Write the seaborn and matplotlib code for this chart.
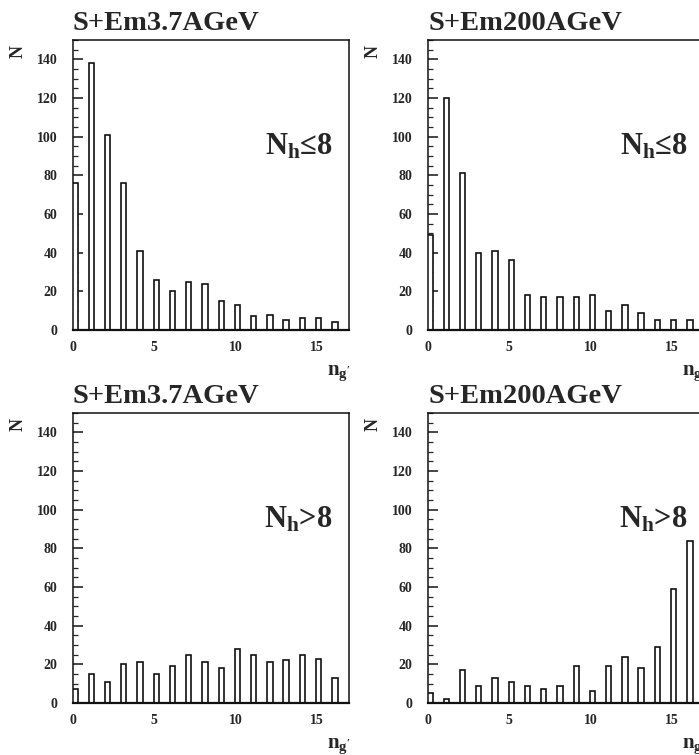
import numpy as np
import pandas as pd
import matplotlib
matplotlib.use("Agg")
import matplotlib.pyplot as plt
from matplotlib.ticker import MultipleLocator
import seaborn as sns

# n_g' bins and counts
ng = list(range(17))
low_37 = [76, 138, 101, 76, 41, 26, 20, 25, 24, 15, 13, 7, 8, 5, 6, 6, 4]
low_200 = [49, 120, 81, 40, 41, 36, 18, 17, 17, 17, 18, 10, 13, 9, 5, 5, 5]
high_37 = [7, 15, 11, 20, 21, 15, 19, 25, 21, 18, 28, 25, 21, 22, 25, 23, 13]
high_200 = [5, 2, 17, 9, 13, 11, 9, 7, 9, 19, 6, 19, 24, 18, 29, 59, 84]

titles = ["S+Em3.7AGeV", "S+Em200AGeV", "S+Em3.7AGeV", "S+Em200AGeV"]
cuts = [r"N$_\mathbf{h}$≤8", r"N$_\mathbf{h}$≤8", r"N$_\mathbf{h}$>8", r"N$_\mathbf{h}$>8"]
yticks = [0, 20, 40, 60, 80, 100, 120, 140]
xticks = [0, 5, 10, 15]

sns.set_style("ticks")
plt.rcParams["font.family"] = ["Liberation Serif", "DejaVu Serif"]
plt.rcParams["font.weight"] = "bold"
plt.rcParams["mathtext.fontset"] = "custom"
plt.rcParams["mathtext.rm"] = "Liberation Serif:bold"
plt.rcParams["mathtext.bf"] = "Liberation Serif:bold"
plt.rcParams["mathtext.it"] = "Liberation Serif:bold"

fig = plt.figure(figsize=(6.99, 7.55), dpi=100)
W, H = 699.0, 755.0
# axes boxes in pixels: left, top, width, height
boxes = [(73, 40, 276, 290), (428, 40, 276, 290),
         (73, 413, 276, 290), (428, 413, 276, 290)]
series = [low_37, low_200, high_37, high_200]

for box, counts, title, cut in zip(boxes, series, titles, cuts):
    l, t, w, h = box
    ax = fig.add_axes([l / W, 1 - (t + h) / H, w / W, h / H])
    df = pd.DataFrame({"ng": ng, "N": counts})
    df["pos"] = df["ng"] + 0.13
    sns.barplot(data=df, x="pos", y="N", native_scale=True, width=0.33,
                color="white", edgecolor="#111111", linewidth=1.2,
                saturation=1, errorbar=None, ax=ax)
    ax.set_xlim(0, 17)
    ax.set_ylim(0, 150)
    ax.set_xticks(xticks)
    ax.set_xticklabels([str(v) for v in xticks])
    ax.set_yticks(yticks)
    ax.set_yticklabels([str(v) for v in yticks])
    ax.yaxis.set_minor_locator(MultipleLocator(5))
    ax.tick_params(axis="y", which="major", direction="in", length=7,
                   width=1.2, pad=11, labelsize=10)
    ax.tick_params(axis="y", which="minor", direction="in", length=3.5,
                   width=0.9)
    ax.tick_params(axis="x", length=0, pad=8, labelsize=10)
    ax.set_xlabel("")
    ax.set_ylabel("")
    for s in ["left", "top", "right"]:
        ax.spines[s].set_linewidth(1.1)
        ax.spines[s].set_color("#111111")
    ax.spines["bottom"].set_linewidth(1.6)
    ax.spines["bottom"].set_color("#111111")

    ax.text(0, 1.034, title, transform=ax.transAxes, ha="left",
            va="baseline", fontsize=20.5, fontweight="bold")
    ax.text(-0.2, 0.96, "N", transform=ax.transAxes, rotation=90,
            ha="center", va="center", fontsize=13, fontweight="bold")
    ax.text(0.92, -0.155, r"n$_{\mathbf{g'}}$", transform=ax.transAxes,
            ha="left", va="baseline", fontsize=15, fontweight="bold")
    ax.text(16.0, 91, cut, ha="right", va="baseline", fontsize=22,
            fontweight="bold")

plt.savefig("out.png", dpi=100)
